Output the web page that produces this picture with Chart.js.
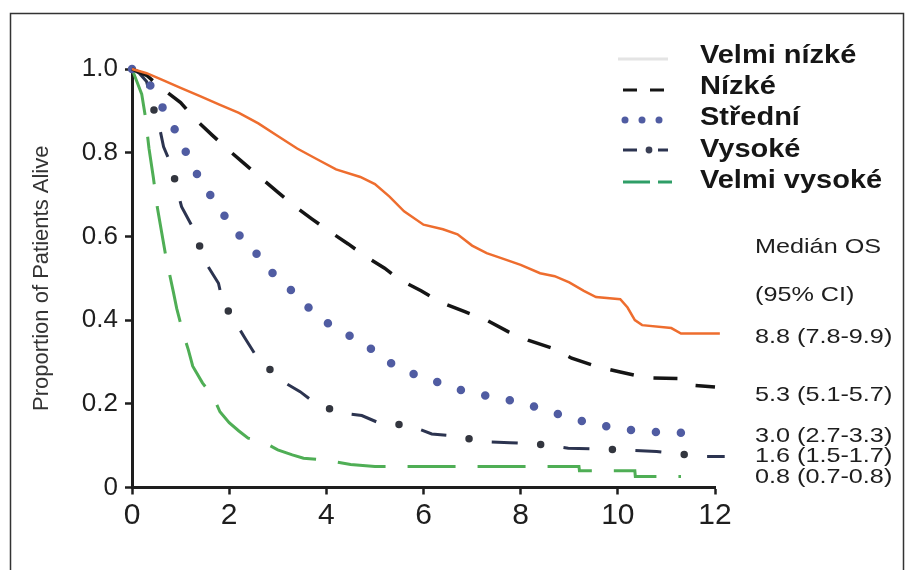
<!DOCTYPE html>
<html><head><meta charset="utf-8">
<script src="https://cdn.jsdelivr.net/npm/chart.js@4/dist/chart.umd.min.js"></script>
<style>html,body{margin:0;padding:0;background:#fff}canvas{display:block}</style>
</head><body>
<canvas id="c" width="915" height="570"></canvas>
<script>
// ---- data ----
const xTickValues = [0, 2, 4, 6, 8, 10, 12];
const yTickValues = [0, 0.2, 0.4, 0.6, 0.8, 1.0];
const seriesNames = ['Velmi nízké', 'Nízké', 'Střední', 'Vysoké', 'Velmi vysoké'];
const medianHeader = ['Medián OS', '(95% CI)'];
const medianLabels = ['8.8 (7.8-9.9)', '5.3 (5.1-5.7)', '3.0 (2.7-3.3)', '1.6 (1.5-1.7)', '0.8 (0.7-0.8)'];
const yTitle = 'Proportion of Patients Alive';

const timeVN = [0, 0.3, 0.6, 1.0, 1.4, 1.8, 2.2, 2.6, 3.0, 3.4, 3.8, 4.2, 4.7, 5.0, 5.3, 5.6, 6.0, 6.4, 6.7, 7.0, 7.3, 7.6, 8.0, 8.4, 8.7, 9.0, 9.3, 9.55, 10.05, 10.2, 10.35, 10.5, 11.1, 11.3, 12.1];
const survVN = [1.0, 0.99, 0.975, 0.955, 0.935, 0.915, 0.895, 0.87, 0.84, 0.81, 0.785, 0.76, 0.742, 0.725, 0.695, 0.66, 0.628, 0.617, 0.605, 0.578, 0.56, 0.548, 0.532, 0.512, 0.505, 0.49, 0.47, 0.455, 0.45, 0.43, 0.40, 0.388, 0.381, 0.368, 0.368];

const timeN = [0, 0.3, 0.6, 1.0, 1.3, 1.65, 2.0, 2.3, 2.65, 3.0, 3.35, 3.7, 4.05, 4.45, 4.8, 5.2, 5.5, 5.95, 6.35, 6.85, 7.3, 7.75, 8.15, 8.65, 9.05, 9.6, 10.05, 10.6, 11.3, 11.5, 12.0];
const survN = [1.0, 0.985, 0.955, 0.92, 0.88, 0.842, 0.805, 0.775, 0.74, 0.706, 0.672, 0.642, 0.613, 0.582, 0.553, 0.524, 0.497, 0.47, 0.443, 0.42, 0.4, 0.372, 0.352, 0.333, 0.309, 0.288, 0.276, 0.262, 0.26, 0.245, 0.24];

const timeS = [0, 0.2, 0.37, 0.58, 0.8, 1.0, 1.2, 1.4, 1.65, 1.9, 2.17, 2.48, 2.75, 3.05, 3.4, 3.68, 4.06, 4.46, 4.85, 5.21, 5.62, 6.13, 6.57, 7.11, 7.68, 8.18, 8.67, 9.17, 9.72, 10.3, 10.94, 11.7];
const survS = [1.0, 0.985, 0.962, 0.918, 0.874, 0.828, 0.78, 0.735, 0.692, 0.65, 0.607, 0.571, 0.53, 0.493, 0.46, 0.424, 0.39, 0.364, 0.338, 0.305, 0.278, 0.259, 0.239, 0.223, 0.211, 0.197, 0.179, 0.161, 0.147, 0.137, 0.131, 0.131];

const timeV = [0, 0.15, 0.3, 0.44, 0.56, 0.65, 0.82, 0.92, 1.02, 1.26, 1.39, 1.5, 1.78, 1.87, 2.09, 2.33, 2.52, 2.74, 3.11, 3.46, 3.73, 4.25, 4.73, 5.07, 5.72, 6.17, 6.65, 7.27, 7.78, 8.33, 8.98, 9.53, 10.15, 10.8, 11.28, 11.8, 12.2];
const survV = [1.0, 0.99, 0.97, 0.906, 0.864, 0.814, 0.767, 0.715, 0.671, 0.619, 0.578, 0.54, 0.488, 0.442, 0.402, 0.356, 0.321, 0.293, 0.253, 0.229, 0.205, 0.179, 0.172, 0.155, 0.148, 0.128, 0.123, 0.109, 0.107, 0.104, 0.094, 0.092, 0.09, 0.086, 0.08, 0.074, 0.074];

const timeVV = [0, 0.1, 0.2, 0.27, 0.35, 0.44, 0.52, 0.61, 0.7, 0.85, 0.92, 1.05, 1.16, 1.25, 1.45, 1.67, 1.81, 2.0, 2.2, 2.39, 2.7, 3.0, 3.3, 3.53, 3.94, 4.5, 5.0, 6.0, 7.0, 8.3, 9.2, 9.21, 10.35, 10.36, 11.3];
const survVV = [1.0, 0.97, 0.94, 0.89, 0.81, 0.74, 0.67, 0.61, 0.55, 0.468, 0.428, 0.37, 0.329, 0.29, 0.25, 0.217, 0.181, 0.155, 0.135, 0.118, 0.109, 0.09, 0.078, 0.07, 0.066, 0.055, 0.05, 0.05, 0.05, 0.05, 0.05, 0.04, 0.04, 0.026, 0.026];

const pts = (t, s) => t.map((x, i) => ({x: x, y: s[i]}));

const colVN = '#ee6d2e', colN = '#151515', colS = '#505ca2', colV = '#2c3450', colVdot = '#33363f', colVV = '#4fae55';

function drawText(ctx, s, x, y, font, sx, color) {
  ctx.save();
  ctx.translate(x, y);
  ctx.scale(sx, 1);
  ctx.font = font;
  ctx.fillStyle = color;
  ctx.textBaseline = 'alphabetic';
  ctx.textAlign = 'left';
  ctx.fillText(s, 0, 0);
  ctx.restore();
}
function seg(ctx, x1, y1, x2, y2, color, w, cap) {
  ctx.save();
  ctx.strokeStyle = color; ctx.lineWidth = w; ctx.lineCap = cap || 'butt';
  ctx.beginPath(); ctx.moveTo(x1, y1); ctx.lineTo(x2, y2); ctx.stroke();
  ctx.restore();
}
function dot(ctx, x, y, r, color) {
  ctx.save(); ctx.fillStyle = color; ctx.beginPath(); ctx.arc(x, y, r, 0, Math.PI * 2); ctx.fill(); ctx.restore();
}

const deco = {
  id: 'deco',
  beforeDraw(chart) {
    const ctx = chart.ctx;
    ctx.save(); ctx.fillStyle = '#ffffff'; ctx.fillRect(0, 0, chart.width, chart.height); ctx.restore();
  },
  afterDraw(chart) {
    const ctx = chart.ctx;
    // frame
    ctx.save(); ctx.strokeStyle = '#333'; ctx.lineWidth = 1.5;
    ctx.beginPath(); ctx.moveTo(10.5, 580); ctx.lineTo(10.5, 13.5); ctx.lineTo(903.5, 13.5); ctx.lineTo(903.5, 580); ctx.stroke(); ctx.restore();
    // legend
    const lx = 700, base = [63, 94, 125, 157, 188];
    const lf = 'bold 25px "Liberation Sans", Arial, sans-serif';
    seriesNames.forEach((n, i) => drawText(ctx, n, lx, base[i], lf, 1.16, '#161616'));
    const sy = [59, 90, 120, 150, 182];
    seg(ctx, 618, sy[0], 668, sy[0], '#e4e4e4', 3);
    seg(ctx, 623, sy[1], 637, sy[1], colN, 3);
    seg(ctx, 650, sy[1], 664, sy[1], colN, 3);
    dot(ctx, 625, sy[2], 3.5, colS); dot(ctx, 642, sy[2], 3.5, colS); dot(ctx, 659, sy[2], 3.5, colS);
    seg(ctx, 623, sy[3], 637, sy[3], colV, 3);
    dot(ctx, 649, sy[3], 3.4, '#3a3f55');
    seg(ctx, 658, sy[3], 668, sy[3], colV, 3);
    seg(ctx, 623, sy[4], 650, sy[4], '#2f9e67', 3);
    seg(ctx, 658, sy[4], 672, sy[4], '#2f9e67', 3);
    // median annotation
    const af = '21px "Liberation Sans", Arial, sans-serif';
    const ax = 755;
    drawText(ctx, medianHeader[0], ax, 253, af, 1.2, '#1e1e1e');
    drawText(ctx, medianHeader[1], ax, 301, af, 1.2, '#1e1e1e');
    const mb = [343, 401, 442, 462, 483];
    medianLabels.forEach((m, i) => drawText(ctx, m, ax, mb[i], af, 1.2, '#1e1e1e'));
  }
};

const axisCol = '#1e1e1e';
new Chart(document.getElementById('c'), {
  type: 'line',
  data: {
    datasets: [
      { label: seriesNames[0], data: pts(timeVN, survVN), borderColor: colVN, borderWidth: 2.5, pointRadius: 0, tension: 0, clip: false },
      { label: seriesNames[1], data: pts(timeN, survN), borderColor: colN, borderWidth: 3.5, borderDash: [24, 20], pointRadius: 0, tension: 0, clip: false },
      { label: seriesNames[2], data: pts(timeS, survS), borderColor: colS, borderWidth: 8.5, borderDash: [0, 25], borderCapStyle: 'round', pointRadius: 0, tension: 0, clip: false },
      { label: seriesNames[3], data: pts(timeV, survV), borderColor: colV, borderWidth: 3, borderDash: [26, 46], pointRadius: 0, tension: 0, clip: false },
      { label: seriesNames[3], data: pts(timeV, survV), borderColor: colVdot, borderWidth: 7.5, borderDash: [0, 72], borderDashOffset: 23, borderCapStyle: 'round', pointRadius: 0, tension: 0, clip: false },
      { label: seriesNames[4], data: pts(timeVV, survVV), borderColor: colVV, borderWidth: 3, borderDash: [48, 22], pointRadius: 0, tension: 0, clip: false }
    ]
  },
  options: {
    responsive: false,
    devicePixelRatio: 1,
    animation: false,
    layout: { padding: { left: 20, top: 69, right: 200, bottom: 30 } },
    plugins: { legend: { display: false }, tooltip: { enabled: false } },
    scales: {
      x: {
        type: 'linear', min: 0, max: 12,
        afterFit: s => { s.height = 52.5; },
        afterBuildTicks: s => { s.ticks = xTickValues.map(v => ({ value: v })); },
        ticks: { color: axisCol, font: { family: '"Liberation Sans", Arial, sans-serif', size: 30 }, padding: 3, maxRotation: 0, callback: v => String(v) },
        grid: { display: true, drawOnChartArea: false, drawTicks: true, tickLength: 7, tickWidth: 2.5, tickColor: axisCol, color: axisCol },
        border: { display: true, color: axisCol, width: 3 }
      },
      y: {
        type: 'linear', min: 0, max: 1,
        afterFit: s => { s.width = 112; },
        afterBuildTicks: s => { s.ticks = yTickValues.map(v => ({ value: v })); },
        ticks: { color: axisCol, font: { family: '"Liberation Sans", Arial, sans-serif', size: 26 }, padding: 7, callback: v => (v === 0 ? '0' : Number(v).toFixed(1)) },
        grid: { display: true, drawOnChartArea: false, drawTicks: true, tickLength: 7, tickWidth: 2.5, tickColor: axisCol, color: axisCol },
        border: { display: true, color: axisCol, width: 3 },
        title: { display: true, text: yTitle, color: '#333', font: { family: '"Liberation Sans", Arial, sans-serif', size: 22 }, padding: { top: 9, bottom: 0 } }
      }
    }
  },
  plugins: [deco]
});
</script>
</body></html>
